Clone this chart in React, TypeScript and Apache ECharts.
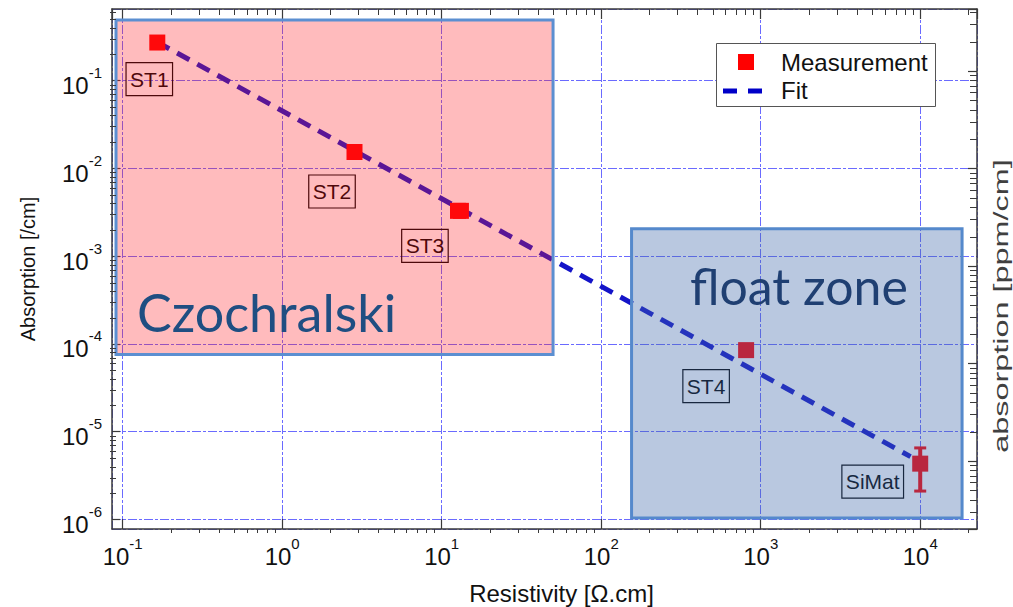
import React, { useEffect, useRef } from 'react';
import * as echarts from 'echarts';

// ---- data ----
const sampleLabels = ['ST1', 'ST2', '', 'ST3', 'ST4', 'SiMat'];
const resistivity = [0.1648, 2.84, 12.65, 13.2, 810, 10000];
const absorption = [0.271, 0.01535, 0.00328, 0.00328, 8.5e-5, 4.33e-6];

const errorX = [10000];
const errorLow = [2.11e-6];
const errorHigh = [6.54e-6];

const fitX = [0.164, 8700];
const fitY = [0.275, 5.2e-6];

const czBoxX = [0.0908, 49.9];
const czBoxY = [7.56e-5, 0.489];
const fzBoxX = [155, 18300];
const fzBoxY = [1.04e-6, 2.05e-3];

// axis extents
const X_MIN = 0.0857;
const X_MAX = 22700;
const Y_MIN = 7.8e-7;
const Y_MAX = 0.653;
const YR_MIN = 2.0;
const YR_MAX = 4.31e5;

// layout / style (not data)
const labelOffsets = [[-8, 36.5], [-22.5, 39.5], [0, 0], [-36, 35], [-40, 36], [-47.5, 18]];
const AXIS_COLOR = '#3a3a3a';
const RED = '#ff0000';
const SANS = "'Liberation Sans', Arial, sans-serif";
const NARROW = "'Liberation Sans Narrow', 'Liberation Sans', Arial, sans-serif";

function minorValues(lo: number, hi: number, n0: number, n1: number) {
  const out: number[] = [];
  for (let n = n0; n <= n1; n++) {
    for (let m = 2; m <= 9; m++) {
      const v = m * Math.pow(10, n);
      if (v >= lo && v <= hi) out.push(v);
    }
  }
  return out;
}
const minorX = minorValues(0.1, X_MAX, -1, 4);
const minorYL = minorValues(1e-6, Y_MAX, -6, -1);
const minorYR = minorValues(YR_MIN, YR_MAX, 0, 5);

const expFormatter = (v: number) => {
  const e = Math.log10(v);
  if (Math.abs(e - Math.round(e)) > 1e-6) return '';
  return `{b|10}{s|${Math.round(e)}}`;
};
const rich = {
  b: { fontSize: 24, lineHeight: 24, fontFamily: NARROW, color: '#111' },
  s: { fontSize: 15, lineHeight: 15, fontFamily: NARROW, color: '#111', padding: [0, 0, 26, 0] },
};

export default function App() {
  const ref = useRef<HTMLDivElement>(null);
  useEffect(() => {
    if (!ref.current) return;
    const chart = echarts.init(ref.current, undefined, { renderer: 'svg' });

    const scatterData = resistivity.map((x, i) => ({
      value: [x, absorption[i]],
      name: sampleLabels[i],
      label: sampleLabels[i]
        ? { show: true, offset: labelOffsets[i] }
        : { show: false },
    }));

    const option: any = {
      animation: false,
      backgroundColor: '#ffffff',
      grid: { left: 112, top: 9, width: 865, height: 520, outerBoundsMode: 'none', containLabel: false },
      xAxis: [
        {
          type: 'log', logBase: 10, min: X_MIN, max: X_MAX, position: 'bottom',
          name: 'Resistivity [Ω.cm]', nameLocation: 'middle', nameGap: 51,
          nameTextStyle: { fontSize: 24, fontFamily: SANS, color: '#111', padding: [0, 0, 0, 34] },
          axisLine: { show: true, lineStyle: { color: AXIS_COLOR, width: 1.5 } },
          axisTick: { show: true, inside: true, length: 10, lineStyle: { color: AXIS_COLOR, width: 1.2 } },
          minorTick: { show: false },
          axisLabel: { margin: 15, formatter: expFormatter, rich, showMinLabel: false, showMaxLabel: false },
          splitLine: { show: true, lineStyle: { color: '#6a6aff', width: 1, type: [9, 2, 3, 2] } },
        },
        {
          type: 'log', logBase: 10, min: X_MIN, max: X_MAX, position: 'top',
          axisLine: { show: true, lineStyle: { color: AXIS_COLOR, width: 1.5 } },
          axisTick: { show: true, inside: true, length: 10, lineStyle: { color: AXIS_COLOR, width: 1.2 } },
          axisLabel: { show: false },
          splitLine: { show: false },
        },
      ],
      yAxis: [
        {
          type: 'log', logBase: 10, min: Y_MIN, max: Y_MAX, position: 'left',
          name: 'Absorption [/cm]', nameLocation: 'middle', nameGap: 74, nameRotate: 90,
          nameTextStyle: { fontSize: 20, fontFamily: SANS, color: '#111' },
          axisLine: { show: true, lineStyle: { color: AXIS_COLOR, width: 1.5 } },
          axisTick: { show: true, inside: true, length: 8, lineStyle: { color: AXIS_COLOR, width: 1.2 } },
          minorTick: { show: false },
          axisLabel: { margin: 10, formatter: expFormatter, rich, padding: [10, 0, 0, 0], showMinLabel: false, showMaxLabel: false },
          splitLine: { show: true, lineStyle: { color: '#6a6aff', width: 1, type: [9, 2, 3, 2] } },
        },
        {
          type: 'log', logBase: 10, min: YR_MIN, max: YR_MAX, position: 'right',
          axisLine: { show: true, lineStyle: { color: AXIS_COLOR, width: 1.5 } },
          axisTick: { show: true, inside: true, length: 9, lineStyle: { color: AXIS_COLOR, width: 1.2 } },
          axisLabel: { show: false },
          splitLine: { show: false },
        },
      ],
      series: [
        {
          name: 'Fit', type: 'line', xAxisIndex: 0, yAxisIndex: 0, z: 2,
          data: fitX.map((x, i) => [x, fitY[i]]),
          symbol: 'none', silent: true,
          lineStyle: { color: '#1414c8', width: 5, type: [14, 9] },
        },
        {
          name: 'Measurement', type: 'scatter', xAxisIndex: 0, yAxisIndex: 0, z: 3,
          symbol: 'rect', symbolSize: 16, silent: true,
          itemStyle: { color: RED, opacity: 1 },
          label: {
            show: true, position: 'inside', formatter: '{b}',
            fontSize: 21, lineHeight: 21, fontFamily: SANS, color: '#000',
            borderColor: '#000', borderWidth: 1.2, padding: [6, 4, 6, 4],
          },
          data: scatterData,
        },
        {
          name: 'error', type: 'custom', xAxisIndex: 0, yAxisIndex: 0, z: 3, silent: true,
          encode: { x: 0, y: [1, 2] },
          data: errorX.map((x, i) => [x, errorLow[i], errorHigh[i]]),
          renderItem: (params: any, api: any) => {
            const x = api.value(0);
            const lo = api.coord([x, api.value(1)]);
            const hi = api.coord([x, api.value(2)]);
            return {
              type: 'group',
              children: [
                { type: 'line', shape: { x1: lo[0], y1: lo[1], x2: hi[0], y2: hi[1] }, style: { stroke: RED, lineWidth: 4 } },
                { type: 'line', shape: { x1: lo[0] - 6, y1: lo[1], x2: lo[0] + 6, y2: lo[1] }, style: { stroke: RED, lineWidth: 3 } },
                { type: 'line', shape: { x1: hi[0] - 6, y1: hi[1], x2: hi[0] + 6, y2: hi[1] }, style: { stroke: RED, lineWidth: 3 } },
              ],
            };
          },
        },
        {
          name: 'regions', type: 'scatter', xAxisIndex: 0, yAxisIndex: 0, z: 10, silent: true,
          data: [],
          markArea: {
            silent: true, z: 10,
            label: { show: false },
            data: [
              [
                { coord: [czBoxX[0], czBoxY[1]], itemStyle: { color: 'rgba(255,30,36,0.3)', borderColor: '#5c8fd1', borderWidth: 3 } },
                { coord: [czBoxX[1], czBoxY[0]] },
              ],
              [
                { coord: [fzBoxX[0], fzBoxY[1]], itemStyle: { color: 'rgba(64,107,170,0.37)', borderColor: '#5589cc', borderWidth: 3 } },
                { coord: [fzBoxX[1], fzBoxY[0]] },
              ],
            ],
          },
        },
        {
          name: 'minorTicks', type: 'custom', xAxisIndex: 0, yAxisIndex: 0, z: 12, silent: true,
          data: [[1, 1e-3]],
          renderItem: (params: any, api: any) => {
            const cs = params.coordSys;
            const st = { stroke: AXIS_COLOR, lineWidth: 1 };
            const children: any[] = [];
            for (const v of minorX) {
              const x = Math.round(api.coord([v, 1e-3])[0]) + 0.5;
              children.push({ type: 'line', shape: { x1: x, y1: cs.y + cs.height, x2: x, y2: cs.y + cs.height + 4 }, style: st });
              children.push({ type: 'line', shape: { x1: x, y1: cs.y, x2: x, y2: cs.y + 6 }, style: st });
            }
            for (const v of minorYL) {
              const y = Math.round(api.coord([1, v])[1]) + 0.5;
              children.push({ type: 'line', shape: { x1: cs.x - 2, y1: y, x2: cs.x + 4, y2: y }, style: st });
            }
            return { type: 'group', children };
          },
        },
        {
          name: 'minorTicksRight', type: 'custom', xAxisIndex: 0, yAxisIndex: 1, z: 12, silent: true,
          data: [[1, 100]],
          renderItem: (params: any, api: any) => {
            const cs = params.coordSys;
            const st = { stroke: AXIS_COLOR, lineWidth: 1 };
            const children: any[] = [];
            for (const v of minorYR) {
              const y = Math.round(api.coord([1, v])[1]) + 0.5;
              children.push({ type: 'line', shape: { x1: cs.x + cs.width - 7, y1: y, x2: cs.x + cs.width, y2: y }, style: st });
            }
            return { type: 'group', children };
          },
        },
      ],
      graphic: {
        elements: [
          {
            type: 'text', z: 100, x: 137, y: 311.5, silent: true,
            style: { text: 'Czochralski', fontSize: 52, fontFamily: 'Lato, sans-serif', fill: '#1f4e82', align: 'left', verticalAlign: 'middle' },
          },
          {
            type: 'text', z: 100, x: 690, y: 286, silent: true,
            style: { text: 'float zone', fontSize: 50, fontFamily: 'Lato, sans-serif', fill: '#1f3f72', align: 'left', verticalAlign: 'middle' },
          },
          {
            type: 'text', z: 100, x: 1001, y: 306, rotation: Math.PI / 2, scaleX: 1.62, silent: true,
            style: { text: 'absorption [ppm/cm]', fontSize: 20, fontFamily: SANS, fill: '#404040', align: 'center', verticalAlign: 'middle' },
          },
          {
            type: 'group', z: 100, silent: true,
            children: [
              { type: 'rect', z: 100, shape: { x: 716.5, y: 43.5, width: 219, height: 63 }, style: { fill: '#ffffff', stroke: '#555555', lineWidth: 1 } },
              { type: 'rect', z: 101, shape: { x: 738, y: 54, width: 16, height: 16 }, style: { fill: RED } },
              { type: 'text', z: 101, x: 781, y: 62, style: { text: 'Measurement', fontSize: 24, fontFamily: SANS, fill: '#111', verticalAlign: 'middle' } },
              { type: 'rect', z: 101, shape: { x: 723, y: 88.5, width: 14, height: 5 }, style: { fill: '#0000c8' } },
              { type: 'rect', z: 101, shape: { x: 748, y: 88.5, width: 14, height: 5 }, style: { fill: '#0000c8' } },
              { type: 'text', z: 101, x: 781, y: 90, style: { text: 'Fit', fontSize: 24, fontFamily: SANS, fill: '#111', verticalAlign: 'middle' } },
            ],
          },
        ],
      },
    };

    chart.setOption(option);
    return () => chart.dispose();
  }, []);

  return <div ref={ref} style={{ position: 'fixed', left: 0, top: 0, width: 1013, height: 607 }} />;
}
